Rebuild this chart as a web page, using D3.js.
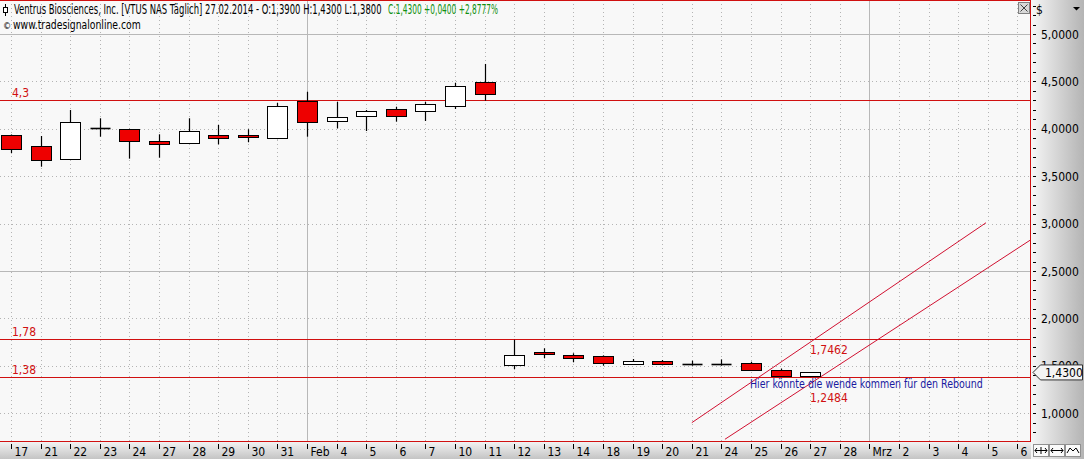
<!DOCTYPE html>
<html><head><meta charset="utf-8">
<script src="https://cdn.jsdelivr.net/npm/d3@7"></script>
<style>
html,body{margin:0;padding:0;background:#f8f8f8;}
svg{display:block;}
text{font-family:"Liberation Sans Narrow","Arial Narrow","DejaVu Sans Condensed","Liberation Sans",Arial,sans-serif;}
</style></head>
<body>
<svg id="c" width="1084" height="459"></svg>
<script>
// ---- data ----
const tickLabels = ["17","21","22","23","24","27","28","29","30","31","Feb","4","5","6","7","10","11","12","13","14","18","19","20","21","24","25","26","27","28","Mrz","2","3","4","5","6"];
const monthStarts = [10, 29];
const opens  = [3.935,3.819,3.685,4.005,3.995,3.871,3.847,3.935,3.935,3.900,4.293,4.085,4.138,4.206,4.191,4.244,4.490,1.505,1.642,1.614,1.603,1.522,1.547,1.522,1.522,1.526,1.460,1.390];
const highs  = [3.940,3.924,4.198,4.111,4.000,3.942,4.111,4.040,3.995,4.275,4.391,4.286,4.198,4.233,4.286,4.486,4.684,1.775,1.685,1.632,1.610,1.572,1.561,1.554,1.568,1.543,1.470,1.430];
const lows   = [3.742,3.600,3.685,3.917,3.685,3.695,3.847,3.836,3.858,3.890,3.917,4.005,3.977,4.075,4.082,4.209,4.296,1.463,1.579,1.537,1.501,1.520,1.505,1.501,1.501,1.452,1.390,1.380];
const closes = [3.784,3.668,4.069,4.005,3.874,3.836,3.977,3.900,3.910,4.240,4.075,4.121,4.188,4.138,4.258,4.451,4.370,1.614,1.621,1.579,1.526,1.554,1.516,1.522,1.522,1.452,1.390,1.430];
const levels = [4.3, 1.78, 1.38];
const levelLabels = ["4,3", "1,78", "1,38"];
const yTicks = [1.0,1.5,2.0,2.5,3.0,3.5,4.0,4.5,5.0];
const upperTrend = [[23.0, 0.900],[32.94, 3.009]];
const lowerTrend = [[24.12, 0.725],[34.43, 2.825]];
const trendValues = [1.7462, 1.2484];
const lastPrice = 1.43;

const svg = d3.select("#c");
const W = 1084, H = 459;
const plotL = 0, plotR = 1030, plotT = 0, plotB = 441;

const x = d3.scaleLinear().domain([0, 34]).range([11, 11 + 34*29.6]);
const y = d3.scaleLinear().domain([1, 5]).range([413.2, 34]);
const fmt4 = v => d3.format(".4f")(v).replace(".", ",");

// squeeze a text horizontally to a target width
function fitText(sel, tx, ty, target) {
  sel.attr("x", 0).attr("y", 0);
  const w = sel.node().getComputedTextLength();
  const s = Math.min(1, target / w);
  sel.attr("transform", `translate(${tx},${ty}) scale(${s},1)`);
  return sel;
}

// defs
const defs = svg.append("defs");
const gR = defs.append("linearGradient").attr("id","gR").attr("x1","0").attr("x2","1").attr("y1","0").attr("y2","0");
gR.append("stop").attr("offset","0").attr("stop-color","#f6f6f6");
gR.append("stop").attr("offset","1").attr("stop-color","#b4b4b4");
const gB = defs.append("linearGradient").attr("id","gB").attr("x1","0").attr("x2","0").attr("y1","0").attr("y2","1");
gB.append("stop").attr("offset","0").attr("stop-color","#f2f2f2");
gB.append("stop").attr("offset","1").attr("stop-color","#c4c4c4");
defs.append("clipPath").attr("id","clip").append("rect").attr("x",plotL).attr("y",plotT).attr("width",plotR-plotL).attr("height",plotB-plotT);

// backgrounds
svg.append("rect").attr("x",0).attr("y",0).attr("width",W).attr("height",H).attr("fill","#f8f8f8");
svg.append("rect").attr("x",plotR+1).attr("y",0).attr("width",W-plotR-1).attr("height",H).attr("fill","url(#gR)");
svg.append("rect").attr("x",0).attr("y",plotB+1).attr("width",plotR+1).attr("height",H-plotB-1).attr("fill","url(#gB)");

const plot = svg.append("g").attr("clip-path","url(#clip)");

// grid
const idx = d3.range(tickLabels.length);
plot.selectAll("line.vg").data(idx).join("line")
  .attr("x1", d => Math.round(x(d))+0.5).attr("x2", d => Math.round(x(d))+0.5)
  .attr("y1", plotT).attr("y2", plotB)
  .attr("stroke", d => monthStarts.includes(d) ? "#b8b8b8" : "#b4b4b4")
  .attr("stroke-dasharray", d => monthStarts.includes(d) ? null : "1,3");
plot.selectAll("line.hg").data(yTicks).join("line")
  .attr("x1", plotL).attr("x2", plotR)
  .attr("y1", d => Math.round(y(d))+0.5).attr("y2", d => Math.round(y(d))+0.5)
  .attr("stroke", d => (d === 2.5 || d === 5.0) ? "#b8b8b8" : "#b4b4b4")
  .attr("stroke-dasharray", d => (d === 2.5 || d === 5.0) ? null : "1,3");

// horizontal levels
plot.selectAll("line.lv").data(levels).join("line")
  .attr("x1", plotL).attr("x2", plotR)
  .attr("y1", d => Math.round(y(d))+0.5).attr("y2", d => Math.round(y(d))+0.5)
  .attr("stroke", "#d01010").attr("stroke-width", 1);
plot.selectAll("text.lv").data(levels).join("text")
  .attr("x", 12).attr("y", d => y(d) - 3)
  .attr("fill", "#d01010").attr("font-size", 12).text((d,i) => levelLabels[i]);

// trend lines
[upperTrend, lowerTrend].forEach(t => {
  plot.append("line")
    .attr("x1", x(t[0][0])).attr("y1", y(t[0][1]))
    .attr("x2", x(t[1][0])).attr("y2", y(t[1][1]))
    .attr("stroke", "#d01030").attr("stroke-width", 1);
});

// candles
const n = opens.length;
const bw = 20;
const cg = plot.append("g");
d3.range(n).forEach(i => {
  const cx = Math.round(x(i)) + 0.5;
  const o = opens[i], c = closes[i], h = highs[i], l = lows[i];
  cg.append("line").attr("x1", cx).attr("x2", cx)
    .attr("y1", y(h)).attr("y2", y(l)).attr("stroke", "#000").attr("stroke-width", 1.2);
  const top = Math.round(y(Math.max(o,c))) + 0.5;
  const bot = Math.round(y(Math.min(o,c))) + 0.5;
  if (o === c) {
    cg.append("line").attr("x1", cx - bw/2).attr("x2", cx + bw/2)
      .attr("y1", top).attr("y2", top).attr("stroke", "#000").attr("stroke-width", 1.6);
  } else {
    cg.append("rect").attr("x", cx - bw/2).attr("y", top)
      .attr("width", bw).attr("height", Math.max(bot - top, 1))
      .attr("fill", c < o ? "#ee0000" : "#ffffff")
      .attr("stroke", "#000").attr("stroke-width", 1);
  }
});

// borders
svg.append("line").attr("x1",0).attr("x2",plotR+1).attr("y1",0.5).attr("y2",0.5).attr("stroke","#d01010");
svg.append("line").attr("x1",0).attr("x2",plotR+1).attr("y1",plotB+0.5).attr("y2",plotB+0.5).attr("stroke","#d01010");
svg.append("line").attr("x1",plotR+0.5).attr("x2",plotR+0.5).attr("y1",0).attr("y2",plotB+1).attr("stroke","#d01010");

// title
fitText(svg.append("text").attr("font-size", 13.5).attr("fill","#000")
  .text("Ventrus Biosciences, Inc. [VTUS NAS  Täglich] 27.02.2014 - O:1,3900 H:1,4300 L:1,3800"), 14, 14, 368);
fitText(svg.append("text").attr("font-size", 13.5).attr("fill","#109010")
  .text("C:1,4300 +0,0400 +2,8777%"), 388, 14, 110);
// small candle icon
svg.append("line").attr("x1",5.5).attr("x2",5.5).attr("y1",4).attr("y2",16).attr("stroke","#000");
svg.append("rect").attr("x",3.5).attr("y",7.5).attr("width",4).attr("height",5).attr("fill","#fff").attr("stroke","#000");
svg.append("text").attr("x", 3).attr("y", 29).attr("font-size", 9).attr("fill","#000").text("©");
fitText(svg.append("text").attr("font-size", 12.5).attr("fill","#000")
  .text("www.tradesignalonline.com"), 13, 29, 128);

// close button
svg.append("rect").attr("x",1018.5).attr("y",2.5).attr("width",11).attr("height",11).attr("fill","#d8d8d8").attr("stroke","#808080");
svg.append("path").attr("d","M1020.5,4.5L1027.5,11.5M1027.5,4.5L1020.5,11.5").attr("stroke","#404040");

// annotations
fitText(svg.append("text").attr("font-size", 12.5).attr("fill","#1a1aa0")
  .text("Hier könnte die wende kommen für den Rebound"), 750, 388, 233);
svg.append("text").attr("x", 810).attr("y", 354).attr("font-size", 12).attr("fill","#d01010").text(fmt4(trendValues[0]));
svg.append("text").attr("x", 810).attr("y", 402).attr("font-size", 12).attr("fill","#d01010").text(fmt4(trendValues[1]));

// x axis
const xa = svg.append("g");
idx.forEach(i => {
  const px = Math.round(x(i)) + 0.5;
  xa.append("line").attr("x1",px).attr("x2",px).attr("y1",444).attr("y2",449).attr("stroke","#000");
  xa.append("text").attr("x", px + 3).attr("y", 456).attr("font-size", 12).attr("fill","#000").text(tickLabels[i]);
});

// y axis (right)
const ya = svg.append("g");
d3.range(7, 54).forEach(k => {
  const v = k/10;
  const py = Math.round(y(v)) + 0.5;
  if (py < 2 || py > 441) return;
  ya.append("line").attr("x1",1033).attr("x2",1036).attr("y1",py).attr("y2",py).attr("stroke","#000");
});
yTicks.forEach(v => {
  ya.append("text").attr("x", 1041).attr("y", y(v) + 4.5).attr("font-size", 12).attr("fill","#000").text(fmt4(v));
});
svg.append("text").attr("x", 1036).attr("y", 14).attr("font-size", 12).attr("fill","#000").text("$");
svg.append("path").attr("d","M1073,7L1080,7L1076.5,10.5Z").attr("fill","#000");

// last price marker
const lp = y(lastPrice);
svg.append("path")
  .attr("d", `M1033,${lp} L1040.5,${lp-7.5} L1082.5,${lp-7.5} L1082.5,${lp+7.5} L1040.5,${lp+7.5} Z`)
  .attr("fill","#f4f4f4").attr("stroke","#303030");
svg.append("text").attr("x", 1045).attr("y", lp + 4.5).attr("font-size", 12).attr("fill","#000").text(fmt4(lastPrice));

// bottom-right buttons
d3.range(3).forEach(i => {
  const bx = 1033.5 + i*16;
  svg.append("rect").attr("x",bx).attr("y",444.5).attr("width",15).attr("height",12).attr("fill","#fafafa").attr("stroke","#909090");
});
svg.append("path").attr("d","M1035,450.5L1047,450.5M1037,448L1035,450.5L1037,453M1045,448L1047,450.5L1045,453M1041,447L1041,454").attr("stroke","#000").attr("fill","none");
svg.append("path").attr("d","M1051,450.5L1063,450.5M1053,448L1051,450.5L1053,453M1061,448L1063,450.5L1061,453").attr("stroke","#000").attr("fill","none");
svg.append("path").attr("d","M1067,453L1070,448L1073,451L1076,448L1079,453").attr("stroke","#000").attr("fill","none");
</script>
</body></html>
